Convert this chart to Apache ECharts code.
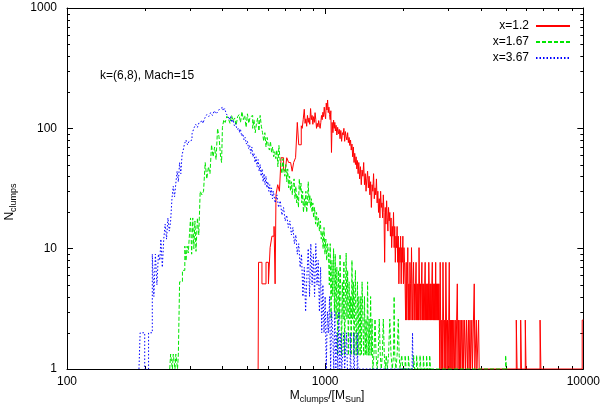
<!DOCTYPE html>
<html>
<head>
<meta charset="utf-8">
<script src="https://cdn.jsdelivr.net/npm/echarts@6/dist/echarts.min.js"></script>
<style>
  html, body { margin: 0; padding: 0; background: #fff; }
  #chart { width: 603px; height: 412px; }
</style>
</head>
<body>
<div id="chart"></div>
<script>
// mass bin left edge, count
const seriesNames = ["x=1.2", "x=1.67", "x=3.67"];
const xTicks = [100, 1000, 10000];
const yTicks = [1, 10, 100, 1000];

const redData = [
  [550, 1], [552, 7.7], [569, 5.1], [590, 7.7], [603, 5.1], [612, 10.2], [622, 12.7], [634, 15.3],
  [640, 5.1], [645, 28], [655, 34], [665, 30], [675, 57], [690, 46], [700, 44], [710, 57],
  [722, 52], [735, 53], [745, 44], [755, 52], [768, 57], [780, 112], [790, 73], [808, 105],
  [815, 100], [822, 118], [830, 144], [836, 110], [842, 120], [848, 104], [854, 128], [860, 112],
  [866, 122], [872, 108], [878, 146], [884, 118], [890, 128], [896, 108], [902, 125], [908, 112],
  [914, 135], [920, 118], [926, 100], [932, 110], [938, 103], [944, 116], [950, 106], [956, 100],
  [962, 112], [968, 128], [974, 118], [980, 136], [986, 125], [992, 150], [998, 130], [1004, 120],
  [1010, 162], [1016, 142], [1022, 172], [1028, 135], [1034, 150], [1040, 130], [1046, 118], [1052, 140],
  [1058, 63], [1064, 112], [1072, 92], [1078, 117], [1084, 100], [1090, 112], [1096, 95], [1102, 106],
  [1110, 88], [1118, 102], [1126, 90], [1134, 98], [1142, 82], [1150, 96], [1158, 78], [1166, 92],
  [1174, 88], [1182, 100], [1190, 78], [1198, 94], [1206, 85], [1214, 80], [1222, 92], [1230, 76],
  [1238, 84], [1246, 72], [1254, 80], [1262, 66], [1270, 74], [1278, 58], [1286, 70], [1294, 52],
  [1302, 62], [1310, 50], [1318, 58], [1326, 46], [1334, 54], [1342, 42], [1350, 52], [1360, 38],
  [1370, 48], [1380, 34], [1390, 45], [1400, 40], [1410, 52], [1420, 34], [1430, 42], [1440, 30],
  [1450, 38], [1460, 44], [1470, 32], [1480, 40], [1490, 28], [1500, 36], [1510, 22], [1520, 34],
  [1530, 30], [1540, 42], [1550, 26], [1560, 32], [1570, 28], [1580, 38], [1590, 24], [1600, 30],
  [1610, 20], [1620, 26], [1630, 18], [1640, 30], [1650, 22], [1660, 24], [1670, 18], [1680, 28],
  [1690, 20], [1700, 7.7], [1710, 22], [1720, 16], [1730, 25], [1740, 18], [1750, 14], [1760, 22],
  [1770, 17], [1780, 20], [1790, 12.7], [1800, 18], [1810, 10.2], [1820, 15.3], [1830, 12.7], [1840, 20],
  [1850, 10.2], [1860, 15.3], [1870, 7.7], [1880, 12.7], [1890, 10.2], [1900, 15.3], [1910, 7.7], [1920, 12.7],
  [1930, 5.1], [1940, 10.2], [1950, 7.7], [1960, 12.7], [1970, 5.1], [1980, 10.2], [1990, 7.7], [2000, 12.7],
  [2010, 5.1], [2020, 10.2], [2030, 7.7], [2040, 5.1], [2050, 2.55], [2060, 7.7], [2070, 2.55], [2080, 5.1],
  [2090, 10.2], [2100, 2.55], [2110, 5.1], [2120, 2.55], [2130, 7.7], [2140, 5.1], [2150, 2.55], [2160, 10.2],
  [2170, 5.1], [2180, 2.55], [2190, 5.1], [2200, 7.7], [2210, 2.55], [2220, 5.1], [2230, 2.55], [2240, 5.1],
  [2250, 7.7], [2260, 2.55], [2270, 5.1], [2280, 2.55], [2290, 5.1], [2300, 2.55], [2310, 10.2], [2320, 5.1],
  [2330, 2.55], [2340, 5.1], [2350, 2.55], [2360, 5.1], [2370, 7.7], [2380, 2.55], [2390, 5.1], [2400, 2.55],
  [2410, 5.1], [2420, 2.55], [2430, 5.1], [2440, 7.7], [2450, 2.55], [2460, 5.1], [2470, 2.55], [2480, 5.1],
  [2490, 2.55], [2500, 5.1], [2510, 2.55], [2520, 7.7], [2530, 5.1], [2540, 2.55], [2550, 5.1], [2560, 2.55],
  [2570, 5.1], [2580, 2.55], [2590, 5.1], [2600, 7.7], [2610, 2.55], [2620, 5.1], [2630, 2.55], [2640, 5.1],
  [2650, 2.55], [2660, 5.1], [2670, 2.55], [2680, 7.7], [2690, 2.55], [2700, 5.1], [2710, 2.55], [2720, 5.1],
  [2730, 2.55], [2740, 5.1], [2750, 2.55], [2760, 5.1], [2770, 2.55], [2780, 1], [2790, 7.7], [2800, 2.55],
  [2815, 1], [2830, 2.55], [2845, 1], [2860, 7.7], [2875, 2.55], [2890, 1], [2905, 2.55], [2920, 1],
  [2935, 7.7], [2950, 2.55], [2965, 1], [2980, 2.55], [2995, 1], [3010, 2.55], [3025, 7.7], [3040, 1],
  [3055, 2.55], [3070, 1], [3085, 2.55], [3100, 1], [3115, 2.55], [3130, 1], [3150, 2.55], [3170, 1],
  [3190, 2.55], [3210, 1], [3230, 2.55], [3250, 5.1], [3270, 1], [3290, 2.55], [3310, 1], [3330, 2.55],
  [3350, 1], [3370, 2.55], [3400, 1], [3420, 2.55], [3440, 1], [3470, 2.55], [3500, 1], [3530, 2.55],
  [3560, 1], [3590, 2.55], [3610, 1], [3640, 2.55], [3660, 1], [3700, 2.55], [3720, 1], [3780, 5.1],
  [3800, 1], [3850, 2.55], [3870, 1], [3930, 2.55], [3950, 1], [5500, 2.55], [5540, 1], [5720, 2.55],
  [5760, 1], [5960, 2.55], [6000, 1], [6800, 2.55], [6850, 1], [9900, 2.55], [10000, 2.55]
];

const greenData = [
  [250, 1], [252, 1.33], [256, 1], [258, 1.33], [262, 1], [264, 1.33], [268, 1], [270, 1.33],
  [273, 5.3], [280, 6.6], [286, 10.5], [289, 7.9], [292, 10.5], [295, 9.2], [298, 13], [301, 18],
  [304, 9], [307, 18], [310, 10], [313, 17], [316, 9.5], [320, 18], [324, 13], [328, 30],
  [333, 28], [338, 30], [343, 52], [348, 38], [353, 48], [358, 42], [363, 73], [368, 58],
  [373, 70], [378, 55], [383, 100], [388, 85], [393, 60], [397, 52], [400, 102], [405, 118],
  [410, 112], [416, 126], [422, 120], [428, 110], [434, 128], [440, 115], [446, 122], [452, 106],
  [458, 125], [464, 130], [470, 112], [476, 138], [482, 118], [488, 128], [494, 102], [500, 132],
  [506, 110], [512, 124], [518, 128], [524, 100], [530, 118], [536, 92], [542, 110], [548, 122],
  [554, 95], [560, 128], [566, 104], [572, 92], [578, 78], [584, 92], [590, 70], [596, 84],
  [602, 72], [608, 66], [614, 78], [620, 63], [626, 70], [632, 58], [638, 64], [644, 56],
  [650, 66], [656, 48], [662, 72], [668, 56], [674, 48], [680, 42], [686, 56], [692, 44],
  [698, 40], [704, 50], [710, 36], [716, 46], [722, 32], [728, 40], [734, 30], [740, 36],
  [746, 28], [752, 34], [758, 38], [764, 26], [770, 33], [776, 24], [782, 28], [788, 22],
  [794, 38], [800, 30], [806, 35], [812, 24], [818, 30], [824, 20], [830, 26], [836, 22],
  [842, 30], [848, 20], [854, 24], [860, 36], [866, 24], [872, 28], [878, 22], [884, 26],
  [890, 20], [896, 24], [902, 18], [910, 22], [918, 16], [926, 20], [934, 15], [942, 18],
  [950, 14], [958, 17], [966, 12], [974, 14], [982, 10], [990, 15], [998, 9], [1006, 12],
  [1014, 8], [1022, 11], [1030, 9], [1038, 5], [1046, 11], [1054, 2.6], [1062, 8], [1070, 4],
  [1078, 10], [1086, 3], [1094, 9], [1102, 2.6], [1110, 7], [1118, 1.3], [1126, 6.6], [1134, 2.6],
  [1142, 9], [1150, 4], [1158, 1.3], [1166, 5.3], [1174, 2.6], [1182, 7.9], [1190, 1.3], [1198, 4],
  [1206, 9.2], [1214, 2.6], [1222, 6.6], [1230, 1.3], [1238, 5.3], [1246, 2.6], [1254, 4], [1262, 1.3],
  [1270, 8], [1278, 2.6], [1286, 5.3], [1294, 1.3], [1302, 4], [1310, 6.6], [1318, 1.3], [1326, 2.6],
  [1334, 5.3], [1342, 1.3], [1350, 4], [1358, 2.6], [1366, 1.3], [1374, 4], [1382, 1.3], [1390, 5.3],
  [1400, 2.6], [1410, 1.3], [1420, 4], [1430, 1.3], [1440, 2.6], [1450, 1.3], [1460, 5.3], [1470, 1.3],
  [1480, 2.6], [1490, 1.3], [1500, 4], [1510, 1.3], [1520, 2.6], [1530, 1], [1545, 1.3], [1560, 2.6],
  [1575, 1.3], [1590, 1], [1605, 1.3], [1620, 2.6], [1635, 1.3], [1650, 1], [1665, 1.3], [1680, 2.6],
  [1695, 1.3], [1710, 1], [1725, 1.3], [1740, 1], [1760, 1.3], [1780, 2.6], [1800, 1.3], [1820, 1],
  [1840, 1.3], [1850, 4], [1860, 1.3], [1880, 1], [1900, 1.3], [1920, 2.6], [1935, 1.3], [1950, 1],
  [1980, 1.3], [2000, 1], [2040, 1.3], [2060, 1], [2100, 1.3], [2120, 1], [2200, 1.3], [2220, 1],
  [2260, 1.3], [2280, 1], [2330, 1.3], [2350, 1], [2400, 1.3], [2420, 1], [2470, 1.3], [2490, 1],
  [2540, 1.3], [2560, 1], [5000, 1.3], [5040, 1], [5080, 1]
];

const blueData = [
  [190, 1], [192, 2], [200, 1], [207, 2], [214, 9], [217, 4], [220, 9], [223, 5],
  [226, 9], [229, 8], [231, 12], [234, 7], [237, 12], [240, 16], [243, 12], [246, 18],
  [249, 14], [252, 17], [255, 26], [258, 33], [261, 27], [264, 35], [267, 44], [270, 36],
  [273, 52], [276, 42], [279, 60], [282, 66], [285, 74], [289, 80], [293, 73], [297, 78],
  [301, 80], [305, 90], [310, 100], [315, 108], [320, 102], [325, 112], [330, 116], [336, 110],
  [342, 122], [348, 130], [354, 125], [360, 135], [366, 128], [372, 140], [378, 132], [384, 138],
  [390, 145], [396, 150], [402, 140], [408, 146], [414, 132], [420, 126], [425, 118], [430, 126],
  [435, 112], [440, 118], [445, 105], [450, 110], [455, 98], [460, 100], [465, 92], [470, 98],
  [475, 86], [480, 90], [485, 80], [490, 84], [495, 74], [500, 78], [505, 68], [510, 72],
  [515, 62], [520, 70], [525, 58], [530, 62], [535, 52], [540, 58], [545, 48], [550, 55],
  [555, 44], [560, 50], [565, 40], [570, 46], [575, 36], [580, 42], [585, 34], [590, 40],
  [595, 32], [600, 36], [605, 30], [610, 34], [615, 28], [620, 32], [625, 26], [630, 30],
  [640, 24], [650, 28], [660, 22], [670, 25], [680, 19], [690, 22], [700, 17], [710, 19],
  [720, 15], [730, 17], [740, 13], [750, 15], [760, 11], [770, 13], [780, 9], [790, 11],
  [800, 7], [810, 9], [820, 4], [830, 7], [840, 3], [850, 6], [860, 10], [870, 4],
  [880, 11], [890, 5], [900, 9], [910, 4], [920, 11], [930, 5], [940, 8], [950, 3],
  [960, 7], [970, 2], [980, 5], [990, 2], [1000, 4], [1010, 1], [1020, 3], [1030, 2],
  [1040, 4], [1050, 1], [1060, 3], [1070, 2], [1080, 1], [1090, 3], [1100, 1], [1110, 2],
  [1120, 1], [1130, 3], [1140, 1], [1150, 2], [1160, 1], [1180, 2], [1190, 1], [1210, 2],
  [1220, 1], [1250, 2], [1260, 1], [1290, 2], [1300, 1], [1330, 2], [1340, 1], [1400, 1],
  [2170, 1], [2180, 2], [2190, 1], [2200, 1]
];

const chartEl = document.getElementById("chart");
const chart = echarts.init(chartEl, null, { renderer: "canvas" });

const FONT = "Liberation Sans, Arial, sans-serif";
const colors = ["#ff0000", "#00e600", "#0000ff"];
const dashes = ["solid", [4, 2], [1.5, 2]];

const frameAxis = {
  axisLine: { show: true, lineStyle: { color: "#000", width: 1 } },
  axisTick: { show: true, inside: true, length: 6, lineStyle: { color: "#000" } },
  splitLine: { show: false },
};

function makeSeries(name, data, idx) {
  return {
    name: name,
    type: "line",
    step: "end",
    data: data,
    symbol: "none",
    animation: false,
    lineStyle: { color: colors[idx], width: 1, type: dashes[idx] },
    itemStyle: { color: colors[idx] },
  };
}

const subRich = {
  n: { fontSize: 12, fontFamily: FONT, fill: "#000", lineHeight: 16 },
  s: { fontSize: 9, fontFamily: FONT, fill: "#000", lineHeight: 16, padding: [7, 0, 0, 0] },
};

const textGraphics = [
  {
    type: "text",
    left: 100,
    top: 70,
    style: { text: "k=(6,8), Mach=15", font: "12px " + FONT, fill: "#000" },
  },
  {
    type: "text",
    x: 327,
    y: 396,
    style: {
      text: "{n|M}{s|clumps}{n|/[M}{s|Sun}{n|]}",
      align: "center",
      verticalAlign: "middle",
      rich: subRich,
    },
  },
  {
    type: "text",
    x: 10,
    y: 202,
    rotation: Math.PI / 2,
    style: {
      text: "{n|N}{s|clumps}",
      align: "center",
      verticalAlign: "middle",
      rich: subRich,
    },
  },
];

const plainLabel = (v) => String(v);

const option = {
  animation: false,
  backgroundColor: "#fff",
  grid: { left: 67, right: 17, top: 8, bottom: 43, containLabel: false },
  legend: {
    right: 27,
    top: 15,
    orient: "vertical",
    align: "right",
    itemWidth: 34,
    itemHeight: 8,
    itemGap: 4,
    itemStyle: { opacity: 0 },
    textStyle: { fontSize: 12, fontFamily: FONT, color: "#000", padding: [0, 2, 0, 0] },
    data: seriesNames,
  },
  xAxis: [
    Object.assign({}, frameAxis, {
      type: "log",
      logBase: 10,
      min: xTicks[0],
      max: xTicks[xTicks.length - 1],
      position: "bottom",
      axisLabel: { margin: 7, fontSize: 12, fontFamily: FONT, color: "#000", showMinLabel: true, showMaxLabel: true, formatter: plainLabel },
    }),
    Object.assign({}, frameAxis, {
      type: "log",
      logBase: 10,
      min: xTicks[0],
      max: xTicks[xTicks.length - 1],
      position: "top",
      axisLabel: { show: false },
    }),
  ],
  yAxis: [
    Object.assign({}, frameAxis, {
      type: "log",
      logBase: 10,
      min: yTicks[0],
      max: yTicks[yTicks.length - 1],
      position: "left",
      axisLabel: { margin: 10, fontSize: 12, fontFamily: FONT, color: "#000", showMinLabel: true, showMaxLabel: true, formatter: plainLabel },
    }),
    Object.assign({}, frameAxis, {
      type: "log",
      logBase: 10,
      min: yTicks[0],
      max: yTicks[yTicks.length - 1],
      position: "right",
      axisLabel: { show: false },
    }),
  ],
  series: [
    makeSeries(seriesNames[0], redData, 0),
    makeSeries(seriesNames[1], greenData, 1),
    makeSeries(seriesNames[2], blueData, 2),
  ],
  graphic: textGraphics,
};

chart.setOption(option);

// gnuplot style minor ticks (2..9 in each decade) on all four sides
function minorTickGraphics() {
  const out = [];
  const len = 3;
  const style = { stroke: "#000", lineWidth: 1 };
  const bl = chart.convertToPixel({ xAxisIndex: 0, yAxisIndex: 0 }, [xTicks[0], yTicks[0]]);
  const tr = chart.convertToPixel({ xAxisIndex: 0, yAxisIndex: 0 }, [xTicks[xTicks.length - 1], yTicks[yTicks.length - 1]]);
  for (let d = 0; d < xTicks.length - 1; d++) {
    for (let k = 2; k <= 9; k++) {
      const px = Math.round(chart.convertToPixel({ xAxisIndex: 0 }, xTicks[d] * k)) + 0.5;
      out.push({ type: "line", shape: { x1: px, y1: bl[1], x2: px, y2: bl[1] - len }, style: style, silent: true });
      out.push({ type: "line", shape: { x1: px, y1: tr[1], x2: px, y2: tr[1] + len }, style: style, silent: true });
    }
  }
  for (let d = 0; d < yTicks.length - 1; d++) {
    for (let k = 2; k <= 9; k++) {
      const py = Math.round(chart.convertToPixel({ yAxisIndex: 0 }, yTicks[d] * k)) + 0.5;
      out.push({ type: "line", shape: { x1: bl[0], y1: py, x2: bl[0] + len, y2: py }, style: style, silent: true });
      out.push({ type: "line", shape: { x1: tr[0], y1: py, x2: tr[0] - len, y2: py }, style: style, silent: true });
    }
  }
  return out;
}

chart.setOption({ graphic: textGraphics.concat(minorTickGraphics()) });
</script>
</body>
</html>
